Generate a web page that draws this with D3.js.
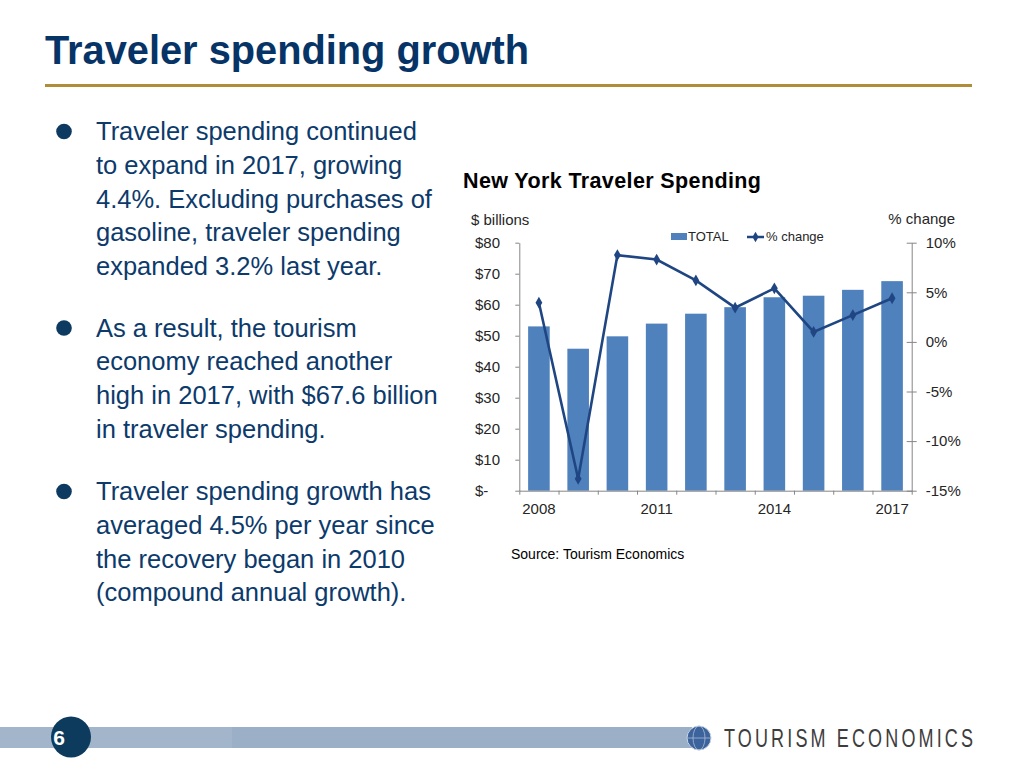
<!DOCTYPE html>
<html>
<head>
<meta charset="utf-8">
<script src="https://cdn.jsdelivr.net/npm/d3@7"></script>
<style>
  html, body { margin: 0; padding: 0; background: #fff; }
  svg { display: block; font-family: "Liberation Sans", Arial, Helvetica, sans-serif; }
</style>
</head>
<body>
<svg id="slide" width="1024" height="768"></svg>
<script>
// chart data
const years = [2008, 2009, 2010, 2011, 2012, 2013, 2014, 2015, 2016, 2017];
const totalSpending = [53.0, 45.8, 49.8, 53.9, 57.1, 59.2, 62.4, 62.9, 64.8, 67.6];
const pctChange = [3.95, -13.8, 8.75, 8.3, 6.2, 3.45, 5.4, 1.0, 2.7, 4.4];
const yearLabels = [2008, 2011, 2014, 2017];
const leftTicks = [0, 10, 20, 30, 40, 50, 60, 70, 80];
const rightTicks = [-15, -10, -5, 0, 5, 10];

const bullets = [
  ["Traveler spending continued", "to expand in 2017, growing", "4.4%. Excluding purchases of",
   "gasoline, traveler spending", "expanded 3.2% last year."],
  ["As a result, the tourism", "economy reached another", "high in 2017, with $67.6 billion",
   "in traveler spending."],
  ["Traveler spending growth has", "averaged 4.5% per year since", "the recovery began in 2010",
   "(compound annual growth)."]
];

const svg = d3.select("#slide");
const navy = "#0c3a6b";

// slide title + gold rule
svg.append("text").attr("x", 45).attr("y", 64)
  .attr("font-size", 40).attr("font-weight", "bold").attr("fill", "#073466")
  .attr("textLength", 484).attr("lengthAdjust", "spacingAndGlyphs")
  .text("Traveler spending growth");
svg.append("rect").attr("x", 45).attr("y", 84).attr("width", 927).attr("height", 3)
  .attr("fill", "#b08d3a");

// bullet text
const bulletTop = [140, 336.5, 500];
bullets.forEach((lines, i) => {
  svg.append("circle").attr("cx", 64).attr("cy", bulletTop[i] - 8.5).attr("r", 7.8).attr("fill", "#0d3a60");
  const t = svg.append("text").attr("font-size", 25.5).attr("fill", navy);
  lines.forEach((l, j) => {
    t.append("tspan").attr("x", 96).attr("y", bulletTop[i] + j * 33.75).text(l);
  });
});

// chart
const plotL = 519.3, plotR = 911.7, plotT = 242.7, plotB = 490.7;
const axisColor = "#868686";
const textColor = "#262626";

const x = d3.scaleBand().domain(years).range([plotL, plotR])
  .paddingInner(0.45).paddingOuter(0.225);
const yL = d3.scaleLinear().domain([0, 80]).range([plotB, plotT]);
const yR = d3.scaleLinear().domain([-15, 10]).range([plotB, plotT]);
const xIdx = d3.scaleLinear().domain([0, years.length]).range([plotL, plotR]);

svg.append("text").attr("x", 463).attr("y", 188)
  .attr("font-size", 21.5).attr("font-weight", "bold").attr("fill", "#000")
  .attr("textLength", 298).attr("lengthAdjust", "spacing")
  .text("New York Traveler Spending");
svg.append("text").attr("x", 471).attr("y", 225).attr("font-size", 15).attr("fill", textColor)
  .text("$ billions");
svg.append("text").attr("x", 955).attr("y", 224).attr("font-size", 15).attr("fill", textColor)
  .attr("text-anchor", "end").text("% change");

// bars
svg.append("g").selectAll("rect").data(years).join("rect")
  .attr("x", d => x(d))
  .attr("y", (d, i) => yL(totalSpending[i]))
  .attr("width", x.bandwidth())
  .attr("height", (d, i) => plotB - yL(totalSpending[i]))
  .attr("fill", "#4f81bd");

// left axis
const gL = svg.append("g").attr("transform", `translate(${plotL},0)`)
  .call(d3.axisLeft(yL).tickValues(leftTicks).tickSize(4).tickSizeOuter(0)
    .tickFormat(d => d === 0 ? "$-" : "$" + d));
gL.selectAll("text").attr("text-anchor", "start").attr("x", 475 - plotL)
  .attr("font-size", 15).attr("fill", textColor);

// right axis
const gR = svg.append("g").attr("transform", `translate(${plotR},0)`)
  .call(d3.axisRight(yR).tickValues(rightTicks).tickSize(5).tickSizeOuter(0)
    .tickFormat(d => d + "%"));
gR.selectAll(".tick line").attr("x1", -5);
gR.selectAll("text").attr("x", 14).attr("font-size", 15).attr("fill", textColor);

// bottom axis: boundary ticks + year labels
const gB = svg.append("g").attr("transform", `translate(0,${plotB})`)
  .call(d3.axisBottom(xIdx).tickValues(d3.range(years.length + 1)).tickSize(4)
    .tickSizeOuter(0).tickFormat(""));
const gBL = svg.append("g").attr("transform", `translate(0,${plotB})`)
  .call(d3.axisBottom(x).tickValues(yearLabels).tickSize(0).tickPadding(13));
gBL.select(".domain").remove();
gBL.selectAll("text").attr("font-size", 15).attr("fill", textColor);

[gL, gR, gB].forEach(g => {
  g.select(".domain").attr("stroke", axisColor);
  g.selectAll(".tick line").attr("stroke", axisColor);
});

// % change line
const lineColor = "#1f4682";
const pts = years.map((d, i) => [x(d) + x.bandwidth() / 2, yR(pctChange[i])]);
svg.append("path").datum(pts).attr("d", d3.line())
  .attr("fill", "none").attr("stroke", lineColor).attr("stroke-width", 2.6);
svg.append("g").selectAll("path").data(pts).join("path")
  .attr("transform", d => `translate(${d[0]},${d[1]})`)
  .attr("d", d3.symbol(d3.symbolDiamond, 40))
  .attr("fill", lineColor);

// legend
svg.append("rect").attr("x", 671).attr("y", 233).attr("width", 16).attr("height", 7).attr("fill", "#4f81bd");
svg.append("text").attr("x", 688).attr("y", 241).attr("font-size", 13).attr("fill", textColor).text("TOTAL");
svg.append("line").attr("x1", 747).attr("x2", 764).attr("y1", 237).attr("y2", 237)
  .attr("stroke", lineColor).attr("stroke-width", 2.5);
svg.append("path").attr("transform", "translate(755.5,237)")
  .attr("d", d3.symbol(d3.symbolDiamond, 32)).attr("fill", lineColor);
svg.append("text").attr("x", 766).attr("y", 241).attr("font-size", 13).attr("fill", textColor).text("% change");

svg.append("text").attr("x", 511).attr("y", 559).attr("font-size", 14).attr("fill", "#000")
  .text("Source: Tourism Economics");

// footer
svg.append("rect").attr("x", 0).attr("y", 727).attr("width", 692).attr("height", 21).attr("fill", "#9bb0c6");
svg.append("rect").attr("x", 0).attr("y", 727).attr("width", 232).attr("height", 21).attr("fill", "#a2b5ca");
svg.append("ellipse").attr("cx", 71).attr("cy", 737).attr("rx", 20).attr("ry", 20.5).attr("fill", "#0d3b5e");
svg.append("text").attr("x", 59).attr("y", 745).attr("text-anchor", "middle")
  .attr("font-size", 21).attr("font-weight", "bold").attr("fill", "#fff").text("6");

const globe = svg.append("g").attr("transform", "translate(699,738)");
globe.append("circle").attr("r", 12).attr("fill", "#3d639d");
globe.append("circle").attr("r", 12).attr("fill", "none").attr("stroke", "#c9d4e3").attr("stroke-width", 1);
globe.append("ellipse").attr("rx", 6).attr("ry", 12).attr("fill", "none").attr("stroke", "#a9bbd4").attr("stroke-width", 0.8);
globe.append("line").attr("x1", -12).attr("x2", 12).attr("stroke", "#a9bbd4").attr("stroke-width", 0.8);
// condensed, letter-spaced logo type
svg.append("text").attr("transform", "translate(724,747) scale(0.68,1)")
  .attr("font-size", 26.5)
  .attr("textLength", 249 / 0.68).attr("lengthAdjust", "spacing")
  .attr("fill", "#3d3d3d").text("TOURISM ECONOMICS");
</script>
</body>
</html>
